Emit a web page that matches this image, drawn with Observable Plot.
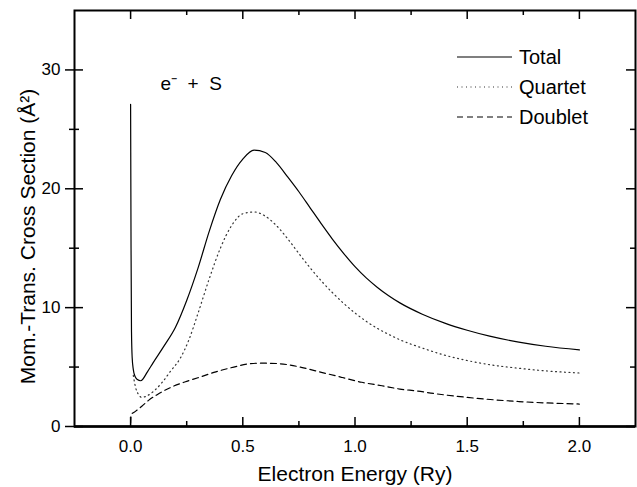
<!DOCTYPE html>
<html>
<head>
<meta charset="utf-8">
<script src="https://cdn.jsdelivr.net/npm/d3@7"></script>
<script src="https://cdn.jsdelivr.net/npm/@observablehq/plot@0.6"></script>
<style>
  body { margin: 0; background: #fff; }
  #wrap { position: relative; width: 637px; height: 487px; font-family: "Liberation Sans", Arial, Helvetica, sans-serif; }
  #legend { position: absolute; left: 457px; top: 42px; font-size: 20px; color: #000; }
  #legend .row { display: flex; align-items: center; height: 30px; }
  #legend svg { display: block; margin-right: 7px; }
</style>
</head>
<body>
<div id="wrap"></div>
<script>
// ---- data (Electron energy in Ry, cross section in Å²) ----
const total = [
  [0.0, 27.1], [0.002, 15.0], [0.004, 8.0], [0.007, 5.8], [0.012, 4.8], [0.02, 4.2],
  [0.03, 3.95], [0.045, 3.85], [0.075, 4.6], [0.1, 5.35], [0.15, 6.8], [0.2, 8.35],
  [0.25, 10.6], [0.3, 13.3], [0.35, 16.4], [0.4, 19.1], [0.45, 21.1], [0.5, 22.5],
  [0.55, 23.25], [0.6, 23.05], [0.65, 22.2], [0.7, 21.0], [0.75, 19.75], [0.8, 18.4],
  [0.85, 17.05], [0.9, 15.75], [0.95, 14.55], [1.0, 13.45], [1.05, 12.5], [1.1, 11.7],
  [1.15, 11.0], [1.2, 10.4], [1.3, 9.45], [1.4, 8.7], [1.5, 8.1], [1.6, 7.6],
  [1.73, 7.1], [1.85, 6.75], [2.0, 6.45]
];
const quartet = [
  [0.012, 4.3], [0.022, 3.3], [0.035, 2.7], [0.05, 2.45], [0.075, 2.6], [0.105, 3.0],
  [0.14, 3.7], [0.18, 4.7], [0.22, 5.7], [0.26, 7.3], [0.3, 9.5], [0.35, 12.4],
  [0.4, 15.0], [0.45, 16.9], [0.5, 17.9], [0.55, 18.05], [0.6, 17.7], [0.65, 16.9],
  [0.7, 15.8], [0.75, 14.55], [0.8, 13.35], [0.85, 12.25], [0.9, 11.25], [0.95, 10.35],
  [1.0, 9.55], [1.05, 8.85], [1.1, 8.25], [1.15, 7.75], [1.2, 7.3], [1.3, 6.6],
  [1.4, 6.0], [1.5, 5.55], [1.6, 5.2], [1.73, 4.9], [1.85, 4.68], [2.0, 4.5]
];
const doublet = [
  [0.0, 0.3], [0.002, 1.0], [0.02, 1.25], [0.05, 1.7], [0.08, 2.2], [0.12, 2.7],
  [0.18, 3.3], [0.25, 3.8], [0.3, 4.1], [0.38, 4.6], [0.46, 5.0], [0.52, 5.25],
  [0.58, 5.33], [0.65, 5.3], [0.7, 5.2], [0.76, 4.98], [0.85, 4.56], [0.94, 4.14],
  [1.03, 3.72], [1.12, 3.43], [1.2, 3.15], [1.28, 2.98], [1.35, 2.78], [1.5, 2.45],
  [1.73, 2.1], [2.0, 1.89]
];
const xMajor = [0, 0.5, 1.0, 1.5, 2.0];
const xMinor = [0.25, 0.75, 1.25, 1.75];
const yMajor = [0, 10, 20, 30];
const yMinor = [5, 15, 25];
const seriesNames = ["Total", "Quartet", "Doublet"];
const xLabel = "Electron Energy (Ry)";
const yLabel = "Mom.-Trans. Cross Section (Å²)";
const annotation = "e\u207B\u00A0\u00A0+\u00A0\u00A0S";

// ---- layout ----
const W = 637, H = 487, mT = 10, mB = 61, mL = 74, mR = 2;
const innerH = H - mT - mB, innerW = W - mL - mR;
const major = 9, minor = 5;
const dashes = {Total: null, Quartet: "1,3.5", Doublet: "6,4"};
const strokes = {Total: "#000", Quartet: "#333", Doublet: "#000"};

const chart = Plot.plot({
  width: W, height: H,
  marginTop: mT, marginBottom: mB, marginLeft: mL, marginRight: mR,
  x: {domain: [-0.25, 2.25]},
  y: {domain: [0, 35]},
  style: {fontFamily: "'Liberation Sans', Arial, Helvetica, sans-serif", fontSize: "17px", color: "#000", background: "#fff", overflow: "visible"},
  marks: [
    Plot.line(doublet, {curve: "monotone-x", stroke: strokes.Doublet, strokeWidth: 1.2, strokeDasharray: dashes.Doublet, clip: true}),
    Plot.line(quartet, {curve: "monotone-x", stroke: strokes.Quartet, strokeWidth: 1.2, strokeDasharray: dashes.Quartet, clip: true}),
    Plot.line(total, {curve: "monotone-x", stroke: strokes.Total, strokeWidth: 1.2, clip: true}),
    // ticks (bottom & top inward)
    Plot.tickX(xMajor, {x: d => d, insetTop: innerH - major, strokeWidth: 1.5}),
    Plot.tickX(xMinor, {x: d => d, insetTop: innerH - minor, strokeWidth: 1.5}),
    Plot.tickX(xMajor, {x: d => d, insetBottom: innerH - major, strokeWidth: 1.5}),
    Plot.tickX(xMinor, {x: d => d, insetBottom: innerH - minor, strokeWidth: 1.5}),
    // left (crossing) and right (inward)
    Plot.tickY(yMajor, {y: d => d, insetLeft: -major, insetRight: innerW - major, strokeWidth: 1.5}),
    Plot.tickY(yMinor, {y: d => d, insetLeft: -minor, insetRight: innerW - minor, strokeWidth: 1.5}),
    Plot.tickY(yMajor, {y: d => d, insetLeft: innerW - major, strokeWidth: 1.5}),
    Plot.tickY(yMinor, {y: d => d, insetLeft: innerW - minor, strokeWidth: 1.5}),
    Plot.axisX({ticks: xMajor, tickSize: 0, tickPadding: 13, tickFormat: d3.format(".1f"), label: null, fontSize: 17}),
    Plot.axisY({ticks: yMajor, tickSize: 0, tickPadding: 14, label: null, fontSize: 17}),
    Plot.frame({stroke: "#000", strokeWidth: 2}),
    Plot.ruleY([0], {stroke: "#000", strokeWidth: 2.5}),
    Plot.text([xLabel], {frameAnchor: "bottom", dy: 48, text: d => d, fontSize: 21, lineAnchor: "middle"}),
    Plot.text([yLabel], {frameAnchor: "left", dx: -46, dy: 18, rotate: -90, text: d => d, fontSize: 21, textAnchor: "middle", lineAnchor: "middle"}),
    Plot.text([annotation], {frameAnchor: "top-left", dx: 86, dy: 79, text: d => d, fontSize: 19, textAnchor: "start", lineAnchor: "bottom"})
  ]
});

const wrap = document.getElementById("wrap");
wrap.appendChild(chart);

// legend overlay
const legend = document.createElement("div");
legend.id = "legend";
for (const name of seriesNames) {
  const row = document.createElement("div");
  row.className = "row";
  const dash = dashes[name] ? ` stroke-dasharray="${dashes[name]}"` : "";
  row.innerHTML = `<svg width="55" height="30"><line x1="0" x2="55" y1="15" y2="15" stroke="${strokes[name]}" stroke-width="1.2"${dash}/></svg><span>${name}</span>`;
  legend.appendChild(row);
}
wrap.appendChild(legend);
</script>
</body>
</html>
